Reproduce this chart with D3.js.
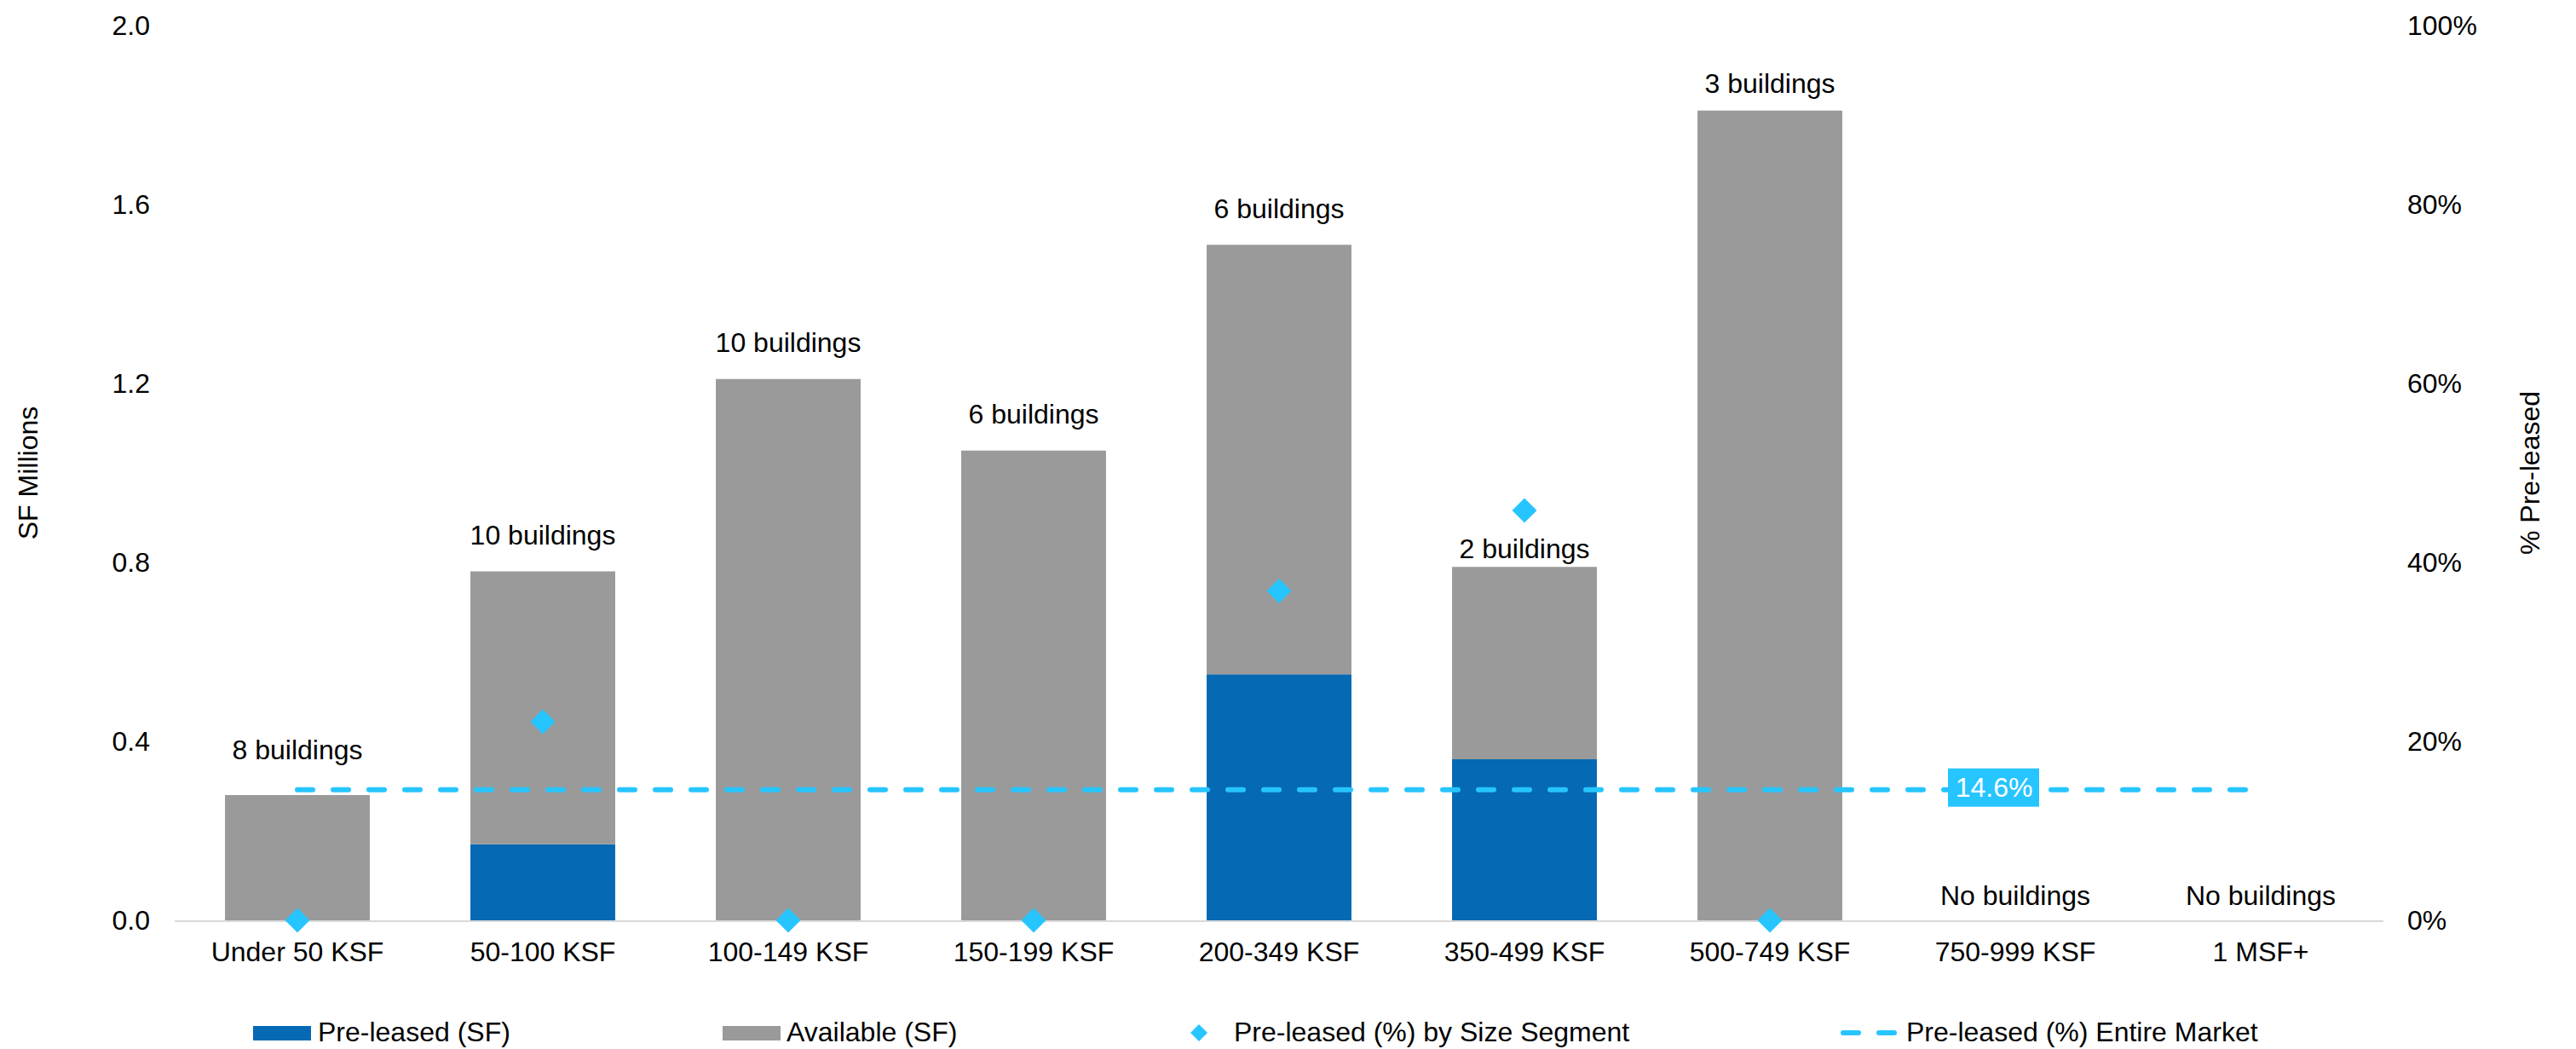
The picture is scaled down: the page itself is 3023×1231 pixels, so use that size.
<!DOCTYPE html>
<html>
<head>
<meta charset="utf-8">
<script src="https://cdn.jsdelivr.net/npm/d3@7"></script>
<style>
  body { margin: 0; background: #fff; }
  text { font-family: "Liberation Sans", Arial, sans-serif; }
</style>
</head>
<body>
<div id="chart-area"></div>
<script>
const categories = ["Under 50 KSF", "50-100 KSF", "100-149 KSF", "150-199 KSF", "200-349 KSF",
    "350-499 KSF", "500-749 KSF", "750-999 KSF", "1 MSF+"];
const preLeased = [0, 0.17, 0, 0, 0.55, 0.36, 0, 0, 0];
const available = [0.28, 0.61, 1.21, 1.05, 0.96, 0.43, 1.81, 0, 0];
const pctBySegment = [0, 22.2, 0, 0, 36.8, 45.8, 0, null, null];
const pctMarket = 14.6;
const buildingLabels = ["8 buildings", "10 buildings", "10 buildings", "6 buildings", "6 buildings",
    "2 buildings", "3 buildings", "No buildings", "No buildings"];
// where each count label sits, in SF millions
const labelAt = [0.36, 0.84, 1.27, 1.11, 1.57, 0.81, 1.85, 0.035, 0.035];
const leftTicks = [0, 0.4, 0.8, 1.2, 1.6, 2.0];
const rightTicks = [0, 20, 40, 60, 80, 100];

const width = 3023;
const height = 1231;
const margin = { left: 205, right: 226, top: 30, bottom: 151 };

const blue = "#0569b3";
const grey = "#9a9a9a";
const cyan = "#27c5ff";
const fontSize = 32;

const svg = d3.select("#chart-area")
    .append("svg")
    .attr("width", width)
    .attr("height", height);

const x = d3.scaleBand()
    .domain(categories)
    .range([margin.left, width - margin.right])
    .paddingInner(0.41)
    .paddingOuter(0.205);

const y = d3.scaleLinear()
    .domain([0, 2])
    .range([height - margin.bottom, margin.top]);

const yPct = d3.scaleLinear()
    .domain([0, 100])
    .range([height - margin.bottom, margin.top]);

const cx = d => x(d) + x.bandwidth() / 2;

const rows = categories.map((c, i) => ({
    cat: c, pre: preLeased[i], avail: available[i], pct: pctBySegment[i],
    label: buildingLabels[i], labelAt: labelAt[i]
}));

// bars: pre-leased at the bottom, available stacked on top
svg.append("g").selectAll("rect")
    .data(rows.filter(d => d.pre > 0))
    .join("rect")
    .attr("x", d => x(d.cat))
    .attr("width", x.bandwidth())
    .attr("y", d => y(d.pre))
    .attr("height", d => y(0) - y(d.pre))
    .attr("fill", blue);

svg.append("g").selectAll("rect")
    .data(rows.filter(d => d.avail > 0))
    .join("rect")
    .attr("x", d => x(d.cat))
    .attr("width", x.bandwidth())
    .attr("y", d => y(d.pre + d.avail))
    .attr("height", d => y(d.pre) - y(d.pre + d.avail))
    .attr("fill", grey);

// baseline
svg.append("line")
    .attr("x1", margin.left).attr("x2", width - margin.right)
    .attr("y1", y(0) + 1).attr("y2", y(0) + 1)
    .attr("stroke", "#d9d9d9")
    .attr("stroke-width", 2);

// left axis
const yAxis = d3.axisLeft(y)
    .tickValues(leftTicks)
    .tickSize(0)
    .tickPadding(29)
    .tickFormat(d3.format(".1f"));
svg.append("g")
    .attr("transform", `translate(${margin.left}, 0)`)
    .call(yAxis)
    .call(g => g.select(".domain").remove())
    .selectAll("text")
    .attr("font-size", fontSize)
    .attr("fill", "#000");

// right axis
const yAxisRight = d3.axisRight(yPct)
    .tickValues(rightTicks)
    .tickSize(0)
    .tickPadding(28)
    .tickFormat(d => d + "%");
svg.append("g")
    .attr("transform", `translate(${width - margin.right}, 0)`)
    .call(yAxisRight)
    .call(g => g.select(".domain").remove())
    .selectAll("text")
    .attr("font-size", fontSize)
    .attr("fill", "#000");

// bottom axis
const xAxis = d3.axisBottom(x).tickSize(0).tickPadding(25);
svg.append("g")
    .attr("transform", `translate(0, ${y(0)})`)
    .call(xAxis)
    .call(g => g.select(".domain").remove())
    .selectAll("text")
    .attr("font-size", fontSize)
    .attr("fill", "#000");

// axis titles
svg.append("text")
    .attr("transform", `translate(33, ${(y(0) + y(2)) / 2}) rotate(-90)`)
    .attr("text-anchor", "middle")
    .attr("dy", "0.35em")
    .attr("font-size", fontSize)
    .text("SF Millions");

svg.append("text")
    .attr("transform", `translate(2969, ${(y(0) + y(2)) / 2}) rotate(-90)`)
    .attr("text-anchor", "middle")
    .attr("dy", "0.35em")
    .attr("font-size", fontSize)
    .text("% Pre-leased");

// entire market dashed line
svg.append("line")
    .attr("x1", cx(categories[0]))
    .attr("x2", cx(categories[categories.length - 1]))
    .attr("y1", yPct(pctMarket))
    .attr("y2", yPct(pctMarket))
    .attr("stroke", cyan)
    .attr("stroke-width", 6)
    .attr("stroke-linecap", "round")
    .attr("stroke-dasharray", "18,24");

// 14.6% tag
const tag = svg.append("g")
    .attr("transform", `translate(${cx(categories[7]) - 25}, ${yPct(pctMarket) - 3})`);
tag.append("rect")
    .attr("x", -54).attr("y", -22)
    .attr("width", 107).attr("height", 45)
    .attr("fill", cyan);
tag.append("text")
    .attr("text-anchor", "middle")
    .attr("dy", "0.36em")
    .attr("font-size", fontSize)
    .attr("fill", "#fff")
    .text(pctMarket + "%");

// diamonds by size segment
const diamond = d3.symbol().type(d3.symbolSquare).size(420);
svg.append("g").selectAll("path")
    .data(rows.filter(d => d.pct !== null))
    .join("path")
    .attr("d", diamond)
    .attr("transform", d => `translate(${cx(d.cat)}, ${yPct(d.pct)}) rotate(45)`)
    .attr("fill", cyan);

// building count labels
svg.append("g").selectAll("text")
    .data(rows)
    .join("text")
    .attr("x", d => cx(d.cat))
    .attr("y", d => y(d.labelAt))
    .attr("text-anchor", "middle")
    .attr("font-size", fontSize)
    .text(d => d.label);

// legend
const legend = svg.append("g");
const legendY = 1222;

legend.append("rect").attr("x", 297).attr("y", 1204).attr("width", 68).attr("height", 17).attr("fill", blue);
legend.append("text").attr("x", 373).attr("y", legendY).attr("font-size", fontSize).text("Pre-leased (SF)");

legend.append("rect").attr("x", 848).attr("y", 1204).attr("width", 68).attr("height", 17).attr("fill", grey);
legend.append("text").attr("x", 923).attr("y", legendY).attr("font-size", fontSize).text("Available (SF)");

legend.append("path")
    .attr("d", d3.symbol().type(d3.symbolSquare).size(200))
    .attr("transform", "translate(1407, 1212) rotate(45)")
    .attr("fill", cyan);
legend.append("text").attr("x", 1448).attr("y", legendY).attr("font-size", fontSize).text("Pre-leased (%) by Size Segment");

legend.append("line")
    .attr("x1", 2163).attr("x2", 2225)
    .attr("y1", 1212).attr("y2", 1212)
    .attr("stroke", cyan)
    .attr("stroke-width", 6)
    .attr("stroke-linecap", "round")
    .attr("stroke-dasharray", "18,24");
legend.append("text").attr("x", 2237).attr("y", legendY).attr("font-size", fontSize).text("Pre-leased (%) Entire Market");
</script>
</body>
</html>
